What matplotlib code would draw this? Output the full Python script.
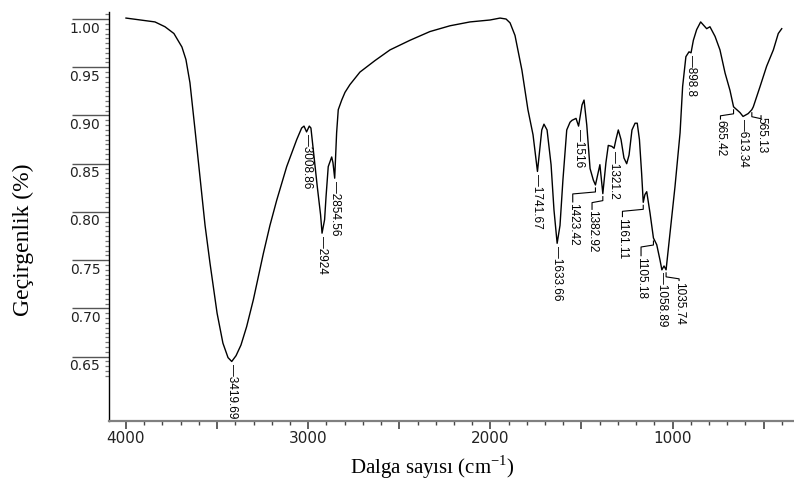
import numpy as np
import matplotlib.pyplot as plt
import matplotlib.transforms as mtransforms
from matplotlib.lines import Line2D

# FTIR spectrum
wavenumber = [4000, 3841, 3786, 3737, 3693, 3671, 3649, 3621, 3594, 3566, 3539, 3500,
              3468, 3440, 3419.69, 3396, 3369, 3338, 3301, 3246, 3210, 3173, 3118, 3063,
              3036, 3023, 3008.86, 2994, 2985, 2972, 2950, 2932, 2924, 2910, 2902, 2890,
              2871, 2864, 2854.56, 2844, 2835, 2816, 2798, 2771, 2716, 2633, 2551, 2441,
              2332, 2222, 2112, 2002, 1947, 1914, 1892, 1865, 1827, 1794, 1766, 1741.67,
              1718, 1706, 1689, 1667, 1651, 1633.66, 1618, 1602, 1581, 1563, 1552, 1530,
              1516, 1497, 1486, 1471, 1453, 1435, 1423.42, 1399, 1382.92, 1366, 1353, 1334,
              1321.2, 1311, 1298, 1283, 1267, 1252, 1239, 1223, 1206, 1194, 1182, 1170,
              1161.11, 1152, 1142, 1124, 1105.18, 1087, 1069, 1058.89, 1047, 1035.74, 1014,
              987, 959, 945, 927, 910, 898.8, 886, 868, 846, 832, 813, 795, 767, 740, 712,
              685, 665.42, 648, 630, 613.34, 585, 565.13, 557, 520, 484, 447, 420, 401]
transmittance = [1.001, 0.997, 0.992, 0.985, 0.971, 0.958, 0.934, 0.885, 0.836, 0.786, 0.747, 0.695,
                 0.664, 0.649, 0.645, 0.651, 0.662, 0.681, 0.709, 0.757, 0.786, 0.812, 0.847, 0.875,
                 0.887, 0.889, 0.883, 0.889, 0.887, 0.864, 0.826, 0.797, 0.778, 0.792, 0.816, 0.847,
                 0.857, 0.851, 0.835, 0.882, 0.906, 0.916, 0.924, 0.932, 0.945, 0.957, 0.968, 0.978,
                 0.987, 0.993, 0.997, 0.999, 1.001, 1.000, 0.996, 0.983, 0.947, 0.906, 0.880, 0.842,
                 0.885, 0.891, 0.885, 0.849, 0.802, 0.7675, 0.786, 0.833, 0.885, 0.893, 0.895, 0.897,
                 0.889, 0.911, 0.916, 0.890, 0.845, 0.833, 0.828, 0.849, 0.819, 0.851, 0.869, 0.868,
                 0.866, 0.875, 0.885, 0.875, 0.856, 0.850, 0.859, 0.885, 0.892, 0.892, 0.875, 0.840,
                 0.810, 0.818, 0.821, 0.799, 0.773, 0.766, 0.750, 0.740, 0.744, 0.740, 0.778,
                 0.826, 0.882, 0.930, 0.961, 0.966, 0.965, 0.978, 0.989, 0.997, 0.994, 0.990, 0.992, 0.982, 0.968, 0.944,
                 0.926, 0.909, 0.906, 0.903, 0.899, 0.902, 0.906, 0.909, 0.930, 0.951, 0.968, 0.985, 0.990]

peak_names = ['3419.69', '3008.86', '2924', '2854.56', '1741.67', '1633.66', '1516',
              '1423.42', '1382.92', '1321.2', '1161.11', '1105.18', '1058.89', '1035.74',
              '898.8', '665.42', '613.34', '565.13']
peak_wn = [3419.69, 3008.86, 2924, 2854.56, 1741.67, 1633.66, 1516, 1423.42, 1382.92,
           1321.2, 1161.11, 1105.18, 1058.89, 1035.74, 898.8, 665.42, 613.34, 565.13]
peak_t = [0.645, 0.883, 0.778, 0.835, 0.842, 0.7675, 0.889, 0.828, 0.819, 0.866,
          0.810, 0.773, 0.740, 0.740, 0.965, 0.909, 0.899, 0.906]

# label layout in pixels: (text centre dx, text top below peak, elbow leader?)
label_layout = {
    '1423.42': (-22.7, 18, True), '1382.92': (-10.8, 16.7, True),
    '1161.11': (-20.8, 15.3, True), '1105.18': (-12.4, 18.7, True),
    '1035.74': (13, 11.7, True), '665.42': (-13.1, 13.3, True),
    '565.13': (9.2, 7, True),
}

fig = plt.figure(figsize=(7.94, 4.80), dpi=100)
W, H = 794, 480
ax = fig.add_axes([109.3 / W, (H - 420.7) / H, (W - 109.3) / W, (420.7 - 11.7) / H])
ax.plot(wavenumber, transmittance, color='black', lw=1.0)
ax.set_xlim(4091.6, 333.7)
ax.set_ylim(0.5836, 1.0076)

for s in ['top', 'right']:
    ax.spines[s].set_visible(False)
ax.spines['left'].set_color('black')
ax.spines['left'].set_linewidth(1.0)
ax.spines['bottom'].set_color('#808080')
ax.spines['bottom'].set_linewidth(1.6)

# x ticks
ax.set_xticks([4000, 3500, 3000, 2500, 2000, 1500, 1000, 500])
ax.set_xticklabels(['4000', '', '3000', '', '2000', '', '1000', ''])
ax.set_xticks(np.arange(400, 4001, 100), minor=True)
ax.tick_params(axis='x', which='major', length=5.8, width=1.2, color='#444444', pad=1.5,
               labelsize=11, labelcolor='#222222')
ax.tick_params(axis='x', which='minor', length=3, width=1.0, color='#444444')

# y ticks: long lines with labels under them
yt = [0.65, 0.70, 0.75, 0.80, 0.85, 0.90, 0.95, 1.00]
ax.set_yticks(yt)
ax.set_yticks([v for v in np.round(np.arange(0.63, 1.0051, 0.005), 3) if v not in yt], minor=True)
ax.tick_params(axis='y', which='major', length=26.6, width=1.0, color='#555555', labelleft=False)
ax.tick_params(axis='y', which='minor', length=3, width=0.9, color='#777777')
ytrans = mtransforms.blended_transform_factory(ax.transAxes, ax.transData)
ytrans = mtransforms.offset_copy(ytrans, fig, x=-9, y=-2.5, units='dots')
for v in yt:
    ax.text(0, v, '%.2f' % v, transform=ytrans, ha='right', va='top',
            fontsize=10, color='#222222', family='DejaVu Sans')

# peak labels
for name, wn, t in zip(peak_names, peak_wn, peak_t):
    X, Y = ax.transData.transform((wn, t))
    if name in label_layout:
        dx, ty, _ = label_layout[name]
        xs = [X, X, X + dx, X + dx]
        ys = [Y - 3, Y - 7, Y - 9, Y - ty + 1]
        fig.add_artist(Line2D(xs, ys, transform=mtransforms.IdentityTransform(),
                              color='black', lw=0.8))
        tr = mtransforms.offset_copy(ax.transData, fig, x=dx, y=-ty, units='dots')
        ax.text(wn, t, name, transform=tr, rotation=-90, ha='center', va='top',
                fontsize=8.5, family='Liberation Sans')
    else:
        tr = mtransforms.offset_copy(ax.transData, fig, x=0, y=-2.5, units='dots')
        ax.text(wn, t, '\u2014' + name, transform=tr, rotation=-90, ha='center', va='top',
                fontsize=8.5, family='Liberation Sans')

fig.text(23 / W, 1 - 240 / H, 'Geçirgenlik (%)', rotation=90, ha='center', va='center',
         fontsize=17, family='Liberation Serif')
fig.text(432 / W, 1 - 467 / H, 'Dalga sayısı (cm$^{\\mathregular{-1}}$)', ha='center', va='center',
         fontsize=15, family='Liberation Serif')

fig.savefig('out.png', dpi=100)
